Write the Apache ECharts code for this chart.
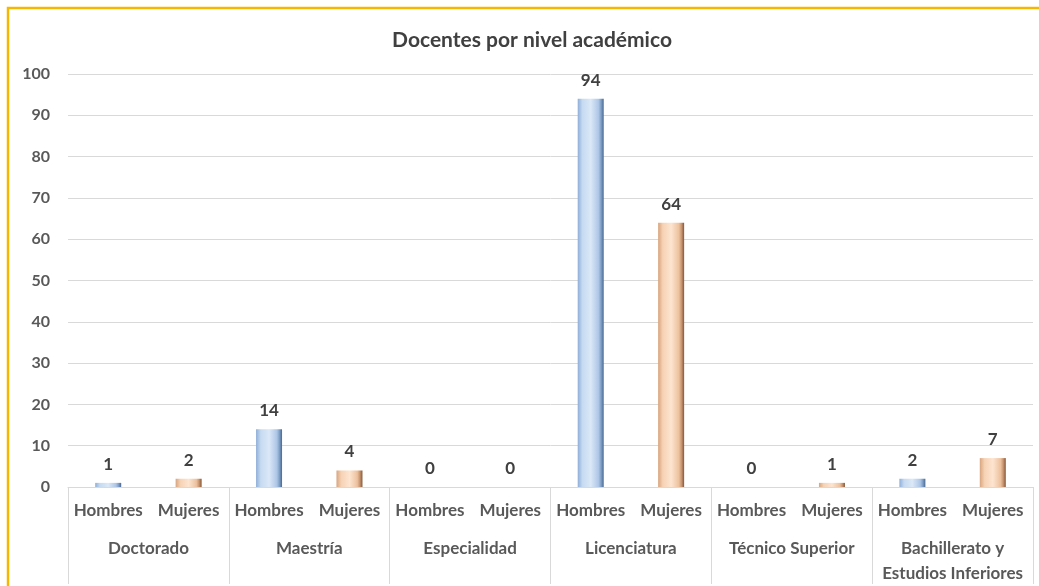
<!DOCTYPE html>
<html>
<head>
<meta charset="utf-8">
<title>Docentes por nivel académico</title>
<script src="https://cdn.jsdelivr.net/npm/echarts@6/dist/echarts.min.js"></script>
<style>
  html, body { margin: 0; padding: 0; background: #fff; }
  #chart { width: 1039px; height: 586px; }
</style>
</head>
<body>
<div id="chart"></div>
<script>
// data
const niveles = ['Doctorado', 'Maestría', 'Especialidad', 'Licenciatura', 'Técnico Superior', 'Bachillerato y\nEstudios Inferiores'];
const sexos = ['Hombres', 'Mujeres'];
const hombres = [1, 14, 0, 94, 0, 2];
const mujeres = [2, 4, 0, 64, 1, 7];

// 12 sub categories, Hombres / Mujeres per nivel
const subCats = [];
const hData = [];
const mData = [];
niveles.forEach((n, i) => {
  subCats.push(sexos[0], sexos[1]);
  hData.push(hombres[i], null);
  mData.push(null, mujeres[i]);
});

const font = 'Lato, "Open Sans", sans-serif';

const blueFill = new echarts.graphic.LinearGradient(0, 0, 1, 0, [
  { offset: 0, color: '#8eaed8' },
  { offset: 0.18, color: '#c6daf1' },
  { offset: 0.5, color: '#dbe8f7' },
  { offset: 0.8, color: '#adc6e6' },
  { offset: 0.9, color: '#7f9ec6' },
  { offset: 1, color: '#4a6890' }
]);
const orangeFill = new echarts.graphic.LinearGradient(0, 0, 1, 0, [
  { offset: 0, color: '#d8a47e' },
  { offset: 0.18, color: '#f6d2b4' },
  { offset: 0.5, color: '#fde5d0' },
  { offset: 0.8, color: '#ecc19e' },
  { offset: 0.9, color: '#c99470' },
  { offset: 1, color: '#845838' }
]);

const labelStyle = {
  show: true,
  position: 'top',
  distance: 10,
  color: '#404040',
  fontFamily: font,
  fontWeight: 'bold',
  fontSize: 17
};

const chart = echarts.init(document.getElementById('chart'), null, { renderer: 'canvas' });

const option = {
  backgroundColor: '#fff',
  animation: false,
  graphic: [
    {
      type: 'rect',
      shape: { x: 8, y: 8, width: 1100, height: 700 },
      style: { fill: null, stroke: '#f5b800', lineWidth: 2.5 },
      silent: true
    },
    {
      type: 'text',
      x: 532,
      y: 40,
      style: {
        text: 'Docentes por nivel académico',
        align: 'center',
        verticalAlign: 'middle',
        fill: '#404040',
        font: 'bold 21px ' + font
      },
      silent: true
    }
  ],
  grid: { left: 68, right: 6, top: 74, bottom: 99 },
  xAxis: [
    {
      type: 'category',
      data: subCats,
      axisLine: { show: true, lineStyle: { color: '#d9d9d9', width: 1 } },
      axisTick: { show: false },
      axisLabel: {
        interval: 0,
        margin: 15,
        color: '#595959',
        fontFamily: font,
        fontWeight: 'bold',
        fontSize: 17
      }
    },
    {
      type: 'category',
      position: 'bottom',
      data: niveles,
      axisLine: { show: false },
      axisTick: {
        show: true,
        interval: 0,
        length: 97,
        lineStyle: { color: '#d9d9d9', width: 1 }
      },
      axisLabel: {
        interval: 0,
        margin: 49,
        color: '#595959',
        fontFamily: font,
        fontWeight: 'bold',
        fontSize: 17,
        lineHeight: 25
      }
    }
  ],
  yAxis: {
    type: 'value',
    min: 0,
    max: 100,
    interval: 10,
    axisLine: { show: false },
    axisTick: { show: false },
    splitLine: { lineStyle: { color: '#d9d9d9', width: 1 } },
    axisLabel: {
      margin: 18,
      color: '#595959',
      fontFamily: font,
      fontWeight: 'bold',
      fontSize: 16
    }
  },
  series: [
    {
      name: 'Hombres',
      type: 'bar',
      xAxisIndex: 0,
      data: hData,
      barWidth: 26,
      barGap: '-100%',
      itemStyle: { color: blueFill },
      label: labelStyle
    },
    {
      name: 'Mujeres',
      type: 'bar',
      xAxisIndex: 0,
      data: mData,
      barWidth: 26,
      barGap: '-100%',
      itemStyle: { color: orangeFill },
      label: labelStyle
    }
  ]
};

chart.setOption(option);
</script>
</body>
</html>
